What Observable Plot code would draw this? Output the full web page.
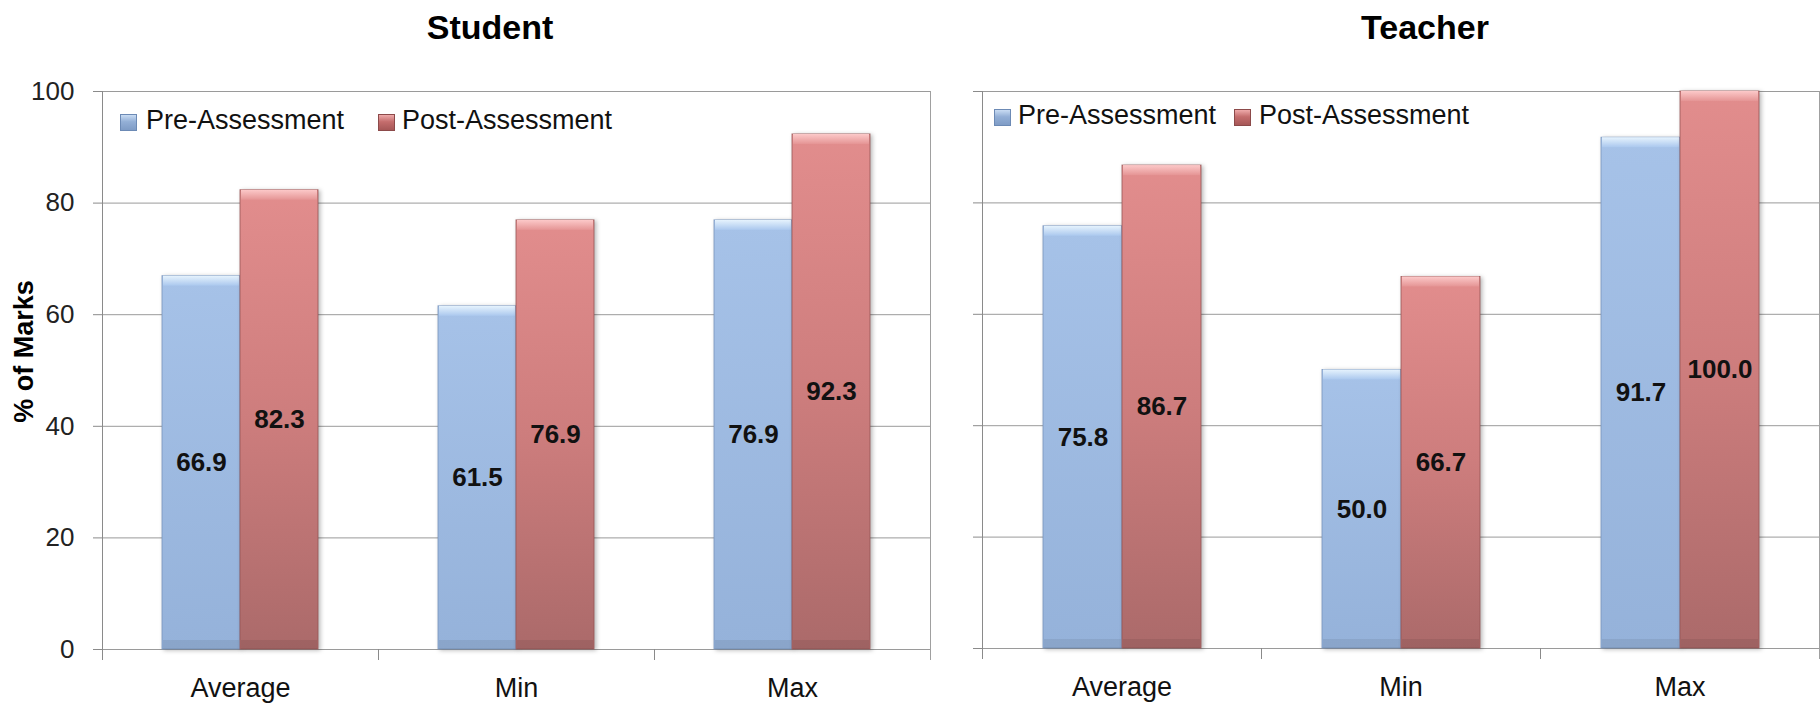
<!DOCTYPE html>
<html><head><meta charset="utf-8">
<script src="https://cdn.jsdelivr.net/npm/d3@7"></script>
<script src="https://cdn.jsdelivr.net/npm/@observablehq/plot@0.6"></script>
<style>
html,body{margin:0;padding:0;background:#fff;}
body{width:1820px;height:704px;overflow:hidden;position:relative;font-family:"Liberation Sans",Arial,sans-serif;color:#111;}
.abs{position:absolute;white-space:nowrap;line-height:1;}
.title{font-size:34px;font-weight:bold;top:10px;transform:translateX(-50%);color:#000;}
.leg{font-size:27px;color:#111;}
.sw{position:absolute;width:17px;height:17px;box-sizing:border-box;}
.ylab{font-size:27px;font-weight:bold;width:200px;height:27px;text-align:center;transform:rotate(-90deg);color:#000;}
</style></head><body>
<svg width="0" height="0" style="position:absolute;left:0;top:0">
  <defs>
    <linearGradient id="preGrad" x1="0" y1="0" x2="0" y2="1">
      <stop offset="0" stop-color="#a6c2e8"/><stop offset="1" stop-color="#95b2da"/>
    </linearGradient>
    <linearGradient id="postGrad" x1="0" y1="0" x2="0" y2="1">
      <stop offset="0" stop-color="#e28d8d"/><stop offset="0.5" stop-color="#cd7d7d"/><stop offset="1" stop-color="#ab6a6a"/>
    </linearGradient>
    <linearGradient id="preCap" x1="0" y1="0" x2="0" y2="1">
      <stop offset="0" stop-color="#e6f3fd"/><stop offset="1" stop-color="#abc8ee"/>
    </linearGradient>
    <linearGradient id="postCap" x1="0" y1="0" x2="0" y2="1">
      <stop offset="0" stop-color="#fcc9c9"/><stop offset="1" stop-color="#e59595"/>
    </linearGradient>
  </defs>
</svg>
<div id="student" class="abs" style="left:0;top:0"></div>
<div id="teacher" class="abs" style="left:940px;top:0"></div>
<script>
// ---- data ----
const categories = ["Average", "Min", "Max"];
const series = ["Pre-Assessment", "Post-Assessment"];
const studentPre = [66.9, 61.5, 76.9];
const studentPost = [82.3, 76.9, 92.3];
const teacherPre = [75.8, 50.0, 91.7];
const teacherPost = [86.7, 66.7, 100.0];
const yTicks = [0, 20, 40, 60, 80, 100];
const panelTitles = ["Student", "Teacher"];
const yLabel = "% of Marks";

function rowsOf(pre, post) {
  const rows = [];
  categories.forEach((c, i) => {
    rows.push({category: c, series: series[0], value: pre[i]});
    rows.push({category: c, series: series[1], value: post[i]});
  });
  return rows;
}

const FONT = '"Liberation Sans", Arial, sans-serif';
const barStyle = [
  {fill: "url(#preGrad)", cap: "url(#preCap)", stroke: "#7893bb"},
  {fill: "url(#postGrad)", cap: "url(#postCap)", stroke: "#965656"}
];
const swatchCss = [
  "background:linear-gradient(to bottom,#c9dcf3 0%,#93afd6 45%,#7f9cc6 100%);border:1px solid #6c8ab5;",
  "background:linear-gradient(to bottom,#eeaaaa 0%,#c46d6d 45%,#a65757 100%);border:1px solid #8c4a4a;"
];

function panel({rows, width, marginLeft, marginRight, marginBottom, showLabels}) {
  const height = 704, marginTop = 91;
  const innerH = height - marginTop - marginBottom;
  const marks = [
    Plot.gridY(yTicks, {stroke: "#9a9a9a", strokeOpacity: 1}),
    Plot.axisY(yTicks, {
      tickSize: 9, tickPadding: 19, fontSize: 26, stroke: "#8a8a8a", fill: "#222",
      tickFormat: showLabels ? (d => String(d)) : (() => ""), label: null
    }),
    Plot.axisFx({anchor: "bottom", tickSize: 0, tickPadding: 28, fontSize: 27, fill: "#111", label: null}),
    // category boundary ticks below the baseline
    Plot.frame({anchor: "left", insetTop: innerH, insetBottom: -10, stroke: "#8a8a8a"}),
    // y axis line (first facet) and right border (last facet)
    Plot.frame({anchor: "left", insetBottom: -10, stroke: "#8a8a8a", fx: () => categories[0]}),
    Plot.frame({anchor: "right", insetBottom: -10, stroke: "#a0a0a0", fx: () => categories[categories.length - 1]})
  ];
  series.forEach((s, si) => {
    const st = barStyle[si];
    const filter = d => d.series === s;
    marks.push(
      Plot.barY(rows, {filter, fx: "category", x: "series", y: "value", fill: st.fill,
        stroke: st.stroke, strokeWidth: 1, strokeOpacity: 0.8,
        imageFilter: "drop-shadow(2px 1px 2px rgba(0,0,0,0.28))"}),
      Plot.barY(rows, {filter, fx: "category", x: "series", y1: "value", y2: "value",
        insetBottom: -10, insetLeft: 1, insetRight: 1, fill: st.cap}),
      Plot.barY(rows, {filter, fx: "category", x: "series", y1: 0, y2: 0,
        insetTop: -9, insetLeft: 1, insetRight: 1, fill: "#000", fillOpacity: 0.07})
    );
  });
  marks.push(
    Plot.text(rows, {fx: "category", x: "series", y: d => d.value / 2,
      text: d => d.value.toFixed(1), fontSize: 26, fontWeight: "bold", fill: "#111"})
  );
  return Plot.plot({
    width, height, marginTop, marginBottom, marginLeft, marginRight,
    fx: {domain: categories, padding: 0},
    x: {domain: series, paddingInner: 0, paddingOuter: 0.75, axis: null},
    y: {domain: [0, 100]},
    style: {fontFamily: FONT, background: "transparent", overflow: "visible", color: "#222"},
    marks
  });
}

document.getElementById("student").appendChild(panel({
  rows: rowsOf(studentPre, studentPost), width: 940, marginLeft: 101, marginRight: 10, marginBottom: 55, showLabels: true
}));
document.getElementById("teacher").appendChild(panel({
  rows: rowsOf(teacherPre, teacherPost), width: 880, marginLeft: 42, marginRight: 1, marginBottom: 56, showLabels: false
}));

// titles
const titleX = [490, 1425];
panelTitles.forEach((t, i) => {
  const d = document.createElement("div");
  d.className = "abs title";
  d.style.left = titleX[i] + "px";
  d.textContent = t;
  document.body.appendChild(d);
});

// y label
const yl = document.createElement("div");
yl.className = "abs ylab";
yl.style.left = (23.5 - 100) + "px";
yl.style.top = (351 - 13.5) + "px";
yl.textContent = yLabel;
document.body.appendChild(yl);

// legends (inside each plot, top-left)
const legendPos = [
  {top: 114, items: [{sw: 120, tx: 146}, {sw: 378, tx: 402}]},
  {top: 109, items: [{sw: 994, tx: 1018}, {sw: 1234, tx: 1259}]}
];
legendPos.forEach(lp => {
  series.forEach((s, si) => {
    const sw = document.createElement("div");
    sw.className = "sw";
    sw.style.cssText += swatchCss[si] + `left:${lp.items[si].sw}px;top:${lp.top}px;`;
    document.body.appendChild(sw);
    const tx = document.createElement("div");
    tx.className = "abs leg";
    tx.style.left = lp.items[si].tx + "px";
    tx.style.top = (lp.top - 7) + "px";
    tx.textContent = s;
    document.body.appendChild(tx);
  });
});
</script>
</body></html>
